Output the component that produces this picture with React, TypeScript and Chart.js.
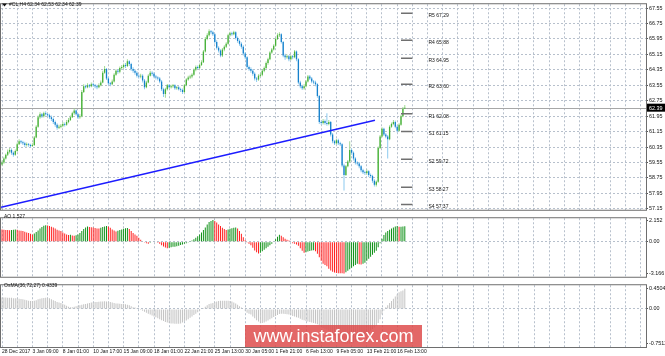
import React, { useEffect, useRef } from 'react';
import { Chart, registerables } from 'chart.js';

Chart.register(...registerables);

// ---------------- data ----------------
const symbolName = '#CL,H4';
const dateLabels = ['28 Dec 2017', '3 Jan 09:00', '8 Jan 01:00', '10 Jan 17:00', '15 Jan 09:00', '18 Jan 01:00', '22 Jan 21:00', '25 Jan 13:00', '30 Jan 05:00', '1 Feb 21:00', '6 Feb 13:00', '9 Feb 05:00', '13 Feb 21:00', '16 Feb 13:00'];
const priceTicks = [57.15, 57.95, 58.75, 59.55, 60.35, 61.15, 61.95, 62.75, 63.55, 64.35, 65.15, 65.95, 66.75, 67.55];
const aoTicks = [-3.166, 0, 2.152];
const osmaTicks = [-0.7512, 0, 0.4504];

const opens = [59.45,59.55,59.75,59.95,60.10,60.20,60.05,59.95,60.15,60.50,
60.65,60.60,60.55,60.45,60.50,60.45,60.40,60.45,60.85,61.40,
61.90,62.05,61.95,62.10,62.05,62.00,61.90,61.80,61.65,61.50,
61.35,61.40,61.45,61.55,61.50,61.65,61.75,61.90,62.10,62.25,
62.05,61.90,61.95,63.20,63.50,63.45,63.55,63.50,63.60,63.55,
63.50,63.45,63.55,63.70,64.20,64.40,63.90,63.65,63.60,63.75,
64.10,64.30,64.25,64.45,64.50,64.60,64.55,64.80,64.65,64.40,
64.30,64.20,64.05,64.00,64.05,63.80,63.45,63.70,64.05,64.20,
64.15,64.00,63.95,63.90,63.75,63.35,63.10,63.35,63.55,63.45,
63.50,63.55,63.40,63.45,63.35,63.30,63.20,63.55,63.85,63.95,
64.00,64.10,64.35,64.50,64.45,64.60,64.75,65.30,65.95,66.15,
66.35,66.30,66.20,65.80,65.50,65.35,65.10,65.40,65.55,65.70,
66.15,66.25,66.20,66.30,66.00,65.85,65.70,65.55,65.20,65.00,
64.50,64.40,64.30,64.15,63.90,63.85,64.05,64.10,64.30,64.45,
64.70,64.90,65.25,65.40,65.60,65.95,66.15,66.20,65.80,65.10,
65.00,65.05,64.90,65.05,65.00,65.30,64.90,63.70,63.50,63.40,
63.50,63.75,64.00,63.90,63.75,63.70,63.60,63.00,61.65,61.60,
61.70,61.60,61.55,61.65,61.00,60.65,60.55,60.70,60.55,60.50,
59.40,58.90,59.35,59.60,60.20,60.05,59.75,59.55,59.50,59.35,
59.15,59.05,59.00,59.10,58.90,58.85,58.60,58.40,58.55,60.30,
60.90,61.30,61.00,60.90,60.75,61.40,61.55,61.65,61.40,61.20,
61.50,61.95,62.34];

const highs = [59.65,59.85,60.02,60.22,60.30,60.28,60.12,60.22,60.58,60.75,
60.72,60.68,60.62,60.58,60.56,60.52,60.55,60.92,61.48,61.98,
62.15,62.12,62.18,62.20,62.12,62.08,61.98,61.88,61.72,61.58,
61.50,61.55,61.65,61.62,61.75,61.85,61.98,62.18,62.35,62.30,
62.12,62.05,63.30,63.60,63.58,63.65,63.62,63.70,63.68,63.62,
63.58,63.65,63.80,64.30,64.55,64.45,63.98,63.72,63.85,64.18,
64.38,64.38,64.52,64.60,64.68,64.70,64.90,64.85,64.72,64.48,
64.38,64.28,64.12,64.15,64.12,63.88,63.78,64.12,64.30,64.28,
64.22,64.08,64.02,63.98,63.82,63.42,63.42,63.62,63.62,63.58,
63.62,63.60,63.52,63.52,63.42,63.38,63.62,63.92,64.05,64.10,
64.18,64.42,64.58,64.58,64.68,64.85,65.38,66.05,66.25,66.45,
66.42,66.38,66.25,65.88,65.58,65.42,65.48,65.62,65.78,66.22,
66.32,66.32,66.38,66.35,66.08,65.92,65.78,65.62,65.28,65.05,
64.58,64.48,64.38,64.22,63.98,64.12,64.20,64.38,64.52,64.78,
64.98,65.32,65.48,65.68,66.02,66.25,66.30,66.25,65.85,65.18,
65.15,65.12,65.12,65.12,65.38,65.35,64.95,63.78,63.58,63.60,
63.82,64.08,64.08,63.98,63.82,63.78,63.65,63.05,61.72,61.80,
61.78,62.10,61.75,61.70,61.08,60.72,60.78,60.78,60.62,60.55,
59.48,59.42,59.68,60.65,60.28,60.12,59.82,59.62,59.58,59.42,
59.22,59.12,59.18,59.15,58.98,58.92,58.68,58.62,60.38,60.98,
61.38,61.35,61.08,60.98,61.48,61.62,61.75,61.72,61.48,61.58,
62.02,62.42,62.53];

const lows = [59.38,59.48,59.70,59.88,60.02,59.95,59.85,59.90,60.10,60.45,
60.52,60.45,60.35,60.38,60.36,60.32,60.35,60.40,60.80,61.35,
61.82,61.85,61.88,61.98,61.92,61.80,61.70,61.55,61.40,61.25,
61.28,61.32,61.38,61.42,61.45,61.58,61.70,61.85,62.02,61.98,
61.80,61.82,61.90,63.15,63.38,63.40,63.42,63.45,63.48,63.40,
63.35,63.40,63.50,63.65,64.15,63.82,63.55,63.50,63.55,63.70,
64.05,64.15,64.18,64.38,64.42,64.45,64.50,64.55,64.30,64.20,
64.10,63.95,63.90,63.92,63.70,63.35,63.40,63.65,64.00,64.05,
63.92,63.85,63.80,63.65,63.25,62.95,62.90,63.28,63.38,63.38,
63.42,63.32,63.32,63.28,63.20,63.10,63.15,63.50,63.78,63.88,
63.92,64.05,64.28,64.38,64.40,64.55,64.70,65.25,65.88,66.08,
66.20,66.10,65.70,65.40,65.25,65.00,65.02,65.32,65.48,65.65,
66.08,66.12,66.15,65.92,65.75,65.60,65.45,65.10,64.90,64.40,
64.30,64.20,64.05,63.80,63.72,63.78,63.98,64.02,64.22,64.40,
64.62,64.85,65.18,65.35,65.55,65.90,66.05,65.72,65.00,64.88,
64.92,64.80,64.85,64.90,64.95,64.80,63.60,63.40,63.30,63.32,
63.45,63.70,63.82,63.65,63.60,63.50,62.90,61.55,61.50,61.52,
61.50,61.45,61.48,60.90,60.55,60.45,60.48,60.45,60.40,59.30,
58.10,58.85,59.30,59.55,59.95,59.65,59.45,59.40,59.25,59.05,
58.95,58.90,58.92,58.80,58.75,58.50,58.30,58.30,58.50,60.25,
60.85,60.92,60.80,59.75,60.70,61.35,61.48,61.32,61.10,61.15,
61.45,61.90,62.34];

const closes = [59.55,59.75,59.95,60.10,60.20,60.05,59.95,60.15,60.50,60.65,
60.60,60.55,60.45,60.50,60.45,60.40,60.45,60.85,61.40,61.90,
62.05,61.95,62.10,62.05,62.00,61.90,61.80,61.65,61.50,61.35,
61.40,61.45,61.55,61.50,61.65,61.75,61.90,62.10,62.25,62.05,
61.90,61.95,63.20,63.50,63.45,63.55,63.50,63.60,63.55,63.50,
63.45,63.55,63.70,64.20,64.40,63.90,63.65,63.60,63.75,64.10,
64.30,64.25,64.45,64.50,64.60,64.55,64.80,64.65,64.40,64.30,
64.20,64.05,64.00,64.05,63.80,63.45,63.70,64.05,64.20,64.15,
64.00,63.95,63.90,63.75,63.35,63.10,63.35,63.55,63.45,63.50,
63.55,63.40,63.45,63.35,63.30,63.20,63.55,63.85,63.95,64.00,
64.10,64.35,64.50,64.45,64.60,64.75,65.30,65.95,66.15,66.35,
66.30,66.20,65.80,65.50,65.35,65.10,65.40,65.55,65.70,66.15,
66.25,66.20,66.30,66.00,65.85,65.70,65.55,65.20,65.00,64.50,
64.40,64.30,64.15,63.90,63.85,64.05,64.10,64.30,64.45,64.70,
64.90,65.25,65.40,65.60,65.95,66.15,66.20,65.80,65.10,65.00,
65.05,64.90,65.05,65.00,65.30,64.90,63.70,63.50,63.40,63.50,
63.75,64.00,63.90,63.75,63.70,63.60,63.00,61.65,61.60,61.70,
61.60,61.55,61.65,61.00,60.65,60.55,60.70,60.55,60.50,59.40,
58.90,59.35,59.60,60.20,60.05,59.75,59.55,59.50,59.35,59.15,
59.05,59.00,59.10,58.90,58.85,58.60,58.40,58.55,60.30,60.90,
61.30,61.00,60.90,60.75,61.40,61.55,61.65,61.40,61.20,61.50,
61.95,62.34,62.39];

const aoValues = [1.20,1.18,1.16,1.15,1.14,1.17,1.19,1.21,1.18,1.12,1.09,
1.05,0.98,0.92,0.85,0.78,0.72,0.80,0.95,1.12,1.30,1.45,1.58,1.64,1.60,1.55,1.48,1.40,1.30,1.18,1.12,
1.05,0.92,0.80,0.72,0.66,0.68,0.62,0.60,0.63,0.72,0.85,1.05,1.25,1.42,1.50,1.47,1.44,1.40,1.35,1.32,
1.30,1.38,1.46,1.52,1.55,1.50,1.38,1.22,1.10,1.02,1.08,1.15,1.22,1.28,1.33,1.35,1.25,1.05,0.85,0.72,
0.60,0.40,0.20,0.05,-0.08,-0.15,-0.20,-0.12,-0.05,0.00,-0.05,-0.10,-0.22,-0.35,-0.48,-0.58,-0.65,-0.60,-0.55,-0.52,
-0.50,-0.45,-0.40,-0.34,-0.28,-0.22,-0.15,-0.08,0.02,0.12,0.25,0.40,0.55,0.72,0.92,1.15,1.42,1.70,1.95,2.06,
2.152,2.05,1.90,1.72,1.55,1.38,1.25,1.17,1.22,1.28,1.34,1.38,1.42,1.30,1.05,0.78,0.45,0.15,-0.08,-0.22,
-0.35,-0.62,-0.88,-1.05,-1.18,-1.10,-0.95,-0.80,-0.65,-0.50,-0.35,-0.20,-0.05,0.25,0.50,0.68,0.60,0.45,0.28,0.20,
0.12,-0.05,-0.15,-0.22,-0.28,-0.40,-0.65,-0.90,-1.10,-1.05,-0.98,-0.92,-0.88,-0.85,-0.95,-1.20,-1.55,-1.90,-2.20,-2.32,
-2.45,-2.70,-2.88,-3.00,-3.08,-3.12,-3.15,-3.155,-3.16,-3.166,-3.05,-2.90,-2.75,-2.60,-2.45,-2.32,-2.20,-2.25,-2.28,-2.20,
-2.10,-1.90,-1.70,-1.50,-1.30,-1.10,-0.90,-0.55,-0.15,0.30,0.65,0.90,1.05,1.18,1.30,1.42,1.50,1.56,1.48,1.49,
1.50,1.527];

const osmaValues = [0.25,0.25,0.25,0.24,0.24,0.24,0.23,0.23,0.23,0.22,0.215,
0.21,0.20,0.19,0.18,0.17,0.17,0.18,0.19,0.21,0.22,0.23,0.235,0.24,0.235,0.23,0.21,0.19,0.17,0.15,0.14,
0.13,0.11,0.09,0.07,0.05,0.04,0.04,0.05,0.06,0.07,0.08,0.09,0.10,0.11,0.12,0.13,0.14,0.145,0.15,0.152,
0.155,0.16,0.16,0.165,0.16,0.155,0.15,0.14,0.13,0.12,0.12,0.115,0.11,0.11,0.10,0.09,0.08,0.06,0.04,0.03,
0.02,0.00,-0.02,-0.04,-0.06,-0.08,-0.10,-0.12,-0.14,-0.16,-0.18,-0.20,-0.22,-0.24,-0.26,-0.28,-0.29,-0.30,-0.31,-0.315,
-0.32,-0.32,-0.32,-0.31,-0.29,-0.27,-0.25,-0.22,-0.19,-0.16,-0.13,-0.10,-0.07,-0.04,-0.01,0.02,0.05,0.08,0.11,0.12,
0.13,0.15,0.16,0.17,0.175,0.18,0.18,0.18,0.175,0.17,0.16,0.14,0.12,0.09,0.06,0.03,0.00,-0.04,-0.08,-0.10,
-0.12,-0.16,-0.20,-0.24,-0.27,-0.30,-0.30,-0.29,-0.27,-0.25,-0.22,-0.20,-0.17,-0.15,-0.13,-0.11,-0.10,-0.10,-0.11,-0.115,
-0.12,-0.13,-0.15,-0.16,-0.18,-0.19,-0.21,-0.23,-0.24,-0.26,-0.27,-0.28,-0.29,-0.30,-0.31,-0.33,-0.35,-0.38,-0.41,-0.425,
-0.44,-0.47,-0.50,-0.54,-0.58,-0.62,-0.66,-0.69,-0.72,-0.74,-0.75,-0.7512,-0.75,-0.74,-0.72,-0.70,-0.67,-0.64,-0.61,-0.60,
-0.58,-0.55,-0.51,-0.47,-0.43,-0.40,-0.36,-0.30,-0.22,-0.12,-0.03,0.04,0.08,0.13,0.17,0.22,0.27,0.32,0.36,0.38,
0.40,0.4339];

const pivotNames = ['R5', 'R4', 'R3', 'R2', 'R1', 'S1', 'S2', 'S3', 'S4'];
const pivotValues = [67.29, 65.88, 64.95, 63.60, 62.08, 61.15, 59.72, 58.27, 57.37];
const pivotFrom = 210;
const pivotTo = 216;

const trendX = [-0.5, 196.3];
const trendY = [57.23, 61.74];

const aoName = 'AO';
const osmaName = 'OsMA(36,72,27)';

// ---------------- styling / layout ----------------
const FONT = '"Liberation Sans", Arial, sans-serif';
const GRID = '#b7c0cc';
const FRAME = '#6e6e6e';
const UP_BODY = '#46b038';
const UP_WICK = '#9fd992';
const DN_BODY = '#1681cc';
const DN_WICK = '#8ccaef';
const AO_UP = '#12921a';
const AO_DN = '#ff2222';
const OSMA_COLOR = '#c4c4c4';
const AXIS_W = 19;
const BAR_PX = 1.9;
const X_MIN = -1 / BAR_PX;
const X_MAX = X_MIN + 645 / BAR_PX;
const LABEL_EVERY = 16;
const GRID_EVERY = 8;

const idx = closes.map((_, i) => i);
const last = closes.length - 1;
const gridValues: number[] = [];
for (let v = 0; v <= X_MAX; v += GRID_EVERY) gridValues.push(v);

Chart.defaults.font.family = FONT;

function makeX(showLabels: boolean): any {
  return {
    type: 'linear',
    min: X_MIN,
    max: X_MAX,
    offset: false,
    afterBuildTicks: (s: any) => {
      s.ticks = gridValues.map((v) => ({ value: v }));
    },
    afterFit: (s: any) => {
      s.height = showLabels ? 9 : 0;
    },
    grid: { color: GRID, lineWidth: 1, drawTicks: false, offset: false },
    border: { display: false, dash: [2, 2] },
    ticks: {
      display: showLabels,
      autoSkip: false,
      maxRotation: 0,
      minRotation: 0,
      align: 'start',
      padding: 2,
      color: '#111',
      font: { size: 5, family: FONT },
      callback: (v: number) => (v % LABEL_EVERY === 0 ? dateLabels[v / LABEL_EVERY] ?? '' : ''),
    },
  };
}

function makeY(min: number, max: number, ticks: number[], fmt: (v: number) => string, zeroOnly: boolean): any {
  return {
    type: 'linear',
    position: 'right',
    min,
    max,
    afterBuildTicks: (s: any) => {
      s.ticks = ticks.map((v) => ({ value: v }));
    },
    afterFit: (s: any) => {
      s.width = AXIS_W;
    },
    grid: {
      color: zeroOnly ? (c: any) => (c.tick && c.tick.value === 0 ? GRID : 'rgba(0,0,0,0)') : GRID,
      lineWidth: 1,
      drawTicks: true,
      tickLength: 2,
      tickColor: '#555',
    },
    border: { display: false, dash: [2, 2] },
    ticks: {
      autoSkip: false,
      padding: 1,
      color: '#111',
      font: { size: 5.4, family: FONT },
      callback: (v: number) => fmt(v),
    },
  };
}

function drawFrame(chart: any) {
  const { ctx, chartArea: a } = chart;
  ctx.save();
  ctx.strokeStyle = FRAME;
  ctx.lineWidth = 1;
  ctx.strokeRect(a.left - 0.5, a.top - 0.5, a.right - a.left + 1, a.bottom - a.top + 1);
  ctx.restore();
}

function panePlugin(title: string, titleY: number): any {
  return {
    id: 'paneOverlay',
    afterDraw(chart: any) {
      drawFrame(chart);
      const { ctx } = chart;
      ctx.save();
      ctx.fillStyle = '#111';
      ctx.font = `5px ${FONT}`;
      ctx.textBaseline = 'middle';
      ctx.textAlign = 'left';
      ctx.fillText(title, 4, titleY);
      ctx.restore();
    },
  };
}

const mainOverlay: any = {
  id: 'mainOverlay',
  beforeDatasetsDraw(chart: any) {
    const { ctx, chartArea: a, scales } = chart;
    const y = Math.round(scales.y.getPixelForValue(closes[last])) + 0.5;
    ctx.save();
    ctx.strokeStyle = '#a7a7a7';
    ctx.lineWidth = 1;
    ctx.beginPath();
    ctx.moveTo(a.left, y);
    ctx.lineTo(a.right, y);
    ctx.stroke();
    ctx.restore();
  },
  afterDraw(chart: any) {
    drawFrame(chart);
    const { ctx, chartArea: a, scales } = chart;
    ctx.save();
    // header
    ctx.fillStyle = '#111';
    ctx.beginPath();
    ctx.moveTo(2, 3.5);
    ctx.lineTo(7, 3.5);
    ctx.lineTo(4.5, 6.5);
    ctx.closePath();
    ctx.fill();
    ctx.font = `5px ${FONT}`;
    ctx.textBaseline = 'middle';
    ctx.textAlign = 'left';
    const header = `${symbolName} ${opens[last].toFixed(2)} ${highs[last].toFixed(2)} ${lows[last].toFixed(2)} ${closes[last].toFixed(2)}`;
    ctx.fillText(header, 9, 5);
    // pivot labels
    const lx = scales.x.getPixelForValue(pivotTo) + 16;
    pivotValues.forEach((v, k) => {
      ctx.fillText(`${pivotNames[k]} ${v.toFixed(2)}`, lx, scales.y.getPixelForValue(v) + 2.5);
    });
    // current price box
    const py = scales.y.getPixelForValue(closes[last]);
    ctx.fillStyle = '#000';
    ctx.fillRect(a.right + 1, py - 4, AXIS_W - 1, 8);
    ctx.fillStyle = '#fff';
    ctx.font = `5.4px ${FONT}`;
    ctx.fillText(closes[last].toFixed(2), a.right + 3, py + 0.5);
    ctx.restore();
  },
};

const baseOptions = (padBottom: number) => ({
  responsive: false,
  animation: false,
  devicePixelRatio: 1,
  events: [],
  layout: { padding: { left: 1, top: 1, right: 0, bottom: padBottom } },
  plugins: { legend: { display: false }, tooltip: { enabled: false } },
});

function mainConfig(): any {
  const isUp = (i: number) => closes[i] >= opens[i];
  const datasets: any[] = [
    {
      type: 'line',
      data: trendX.map((x, k) => ({ x, y: trendY[k] })),
      borderColor: '#1c1cff',
      borderWidth: 1.5,
      pointRadius: 0,
      order: 0,
    },
    ...pivotValues.map((v) => ({
      type: 'line',
      data: [
        { x: pivotFrom, y: v },
        { x: pivotTo, y: v },
      ],
      borderColor: '#707070',
      borderWidth: 1.5,
      pointRadius: 0,
      order: 1,
    })),
    {
      type: 'bar',
      data: idx.map((i) => ({ x: i, y: [opens[i], closes[i]] })),
      backgroundColor: idx.map((i) => (isUp(i) ? UP_BODY : DN_BODY)),
      barThickness: 1.3,
      grouped: false,
      inflateAmount: 0,
      order: 2,
    },
    {
      type: 'bar',
      data: idx.map((i) => ({ x: i, y: [lows[i], highs[i]] })),
      backgroundColor: idx.map((i) => (isUp(i) ? UP_WICK : DN_WICK)),
      barThickness: 1,
      grouped: false,
      inflateAmount: 0,
      order: 3,
    },
  ];
  return {
    type: 'bar',
    data: { datasets },
    options: {
      ...baseOptions(1),
      scales: {
        x: makeX(false),
        y: makeY(57.0998, 67.751, priceTicks, (v) => v.toFixed(2), false),
      },
    },
    plugins: [mainOverlay],
  };
}

function aoConfig(): any {
  return {
    type: 'bar',
    data: {
      datasets: [
        {
          data: idx.map((i) => ({ x: i, y: aoValues[i] })),
          backgroundColor: idx.map((i) => (i > 0 && aoValues[i] > aoValues[i - 1] ? AO_UP : AO_DN)),
          barThickness: 1,
          grouped: false,
          inflateAmount: 0,
        },
      ],
    },
    options: {
      ...baseOptions(1),
      scales: {
        x: makeX(false),
        y: makeY(-3.498, 2.332, aoTicks, (v) => (v === 0 ? '0.00' : v.toFixed(3)), true),
      },
    },
    plugins: [panePlugin(`${aoName} ${aoValues[last]}`, 3)],
  };
}

function osmaConfig(): any {
  return {
    type: 'bar',
    data: {
      datasets: [
        {
          data: idx.map((i) => ({ x: i, y: osmaValues[i] })),
          backgroundColor: OSMA_COLOR,
          barThickness: 1,
          grouped: false,
          inflateAmount: 0,
        },
      ],
    },
    options: {
      ...baseOptions(0),
      scales: {
        x: makeX(true),
        y: makeY(-0.8188, 0.5118, osmaTicks, (v) => (v === 0 ? '0.00' : v.toFixed(4)), true),
      },
    },
    plugins: [panePlugin(`${osmaName} ${osmaValues[last]}`, 5)],
  };
}

export default function App() {
  const mainRef = useRef<HTMLCanvasElement>(null);
  const aoRef = useRef<HTMLCanvasElement>(null);
  const osRef = useRef<HTMLCanvasElement>(null);

  useEffect(() => {
    const charts = [
      new Chart(mainRef.current as HTMLCanvasElement, mainConfig()),
      new Chart(aoRef.current as HTMLCanvasElement, aoConfig()),
      new Chart(osRef.current as HTMLCanvasElement, osmaConfig()),
    ];
    return () => charts.forEach((c) => c.destroy());
  }, []);

  const canvasStyle = (top: number, h: number): any => ({
    position: 'absolute',
    left: 0,
    top,
    width: 665,
    height: h,
    display: 'block',
  });

  return (
    <div style={{ position: 'absolute', left: 0, top: 0, width: 665, height: 356, background: '#fff', overflow: 'hidden' }}>
      <canvas ref={mainRef} width={665} height={214} style={canvasStyle(0, 214)} />
      <canvas ref={aoRef} width={665} height={67} style={canvasStyle(214, 67)} />
      <canvas ref={osRef} width={665} height={75} style={canvasStyle(281, 75)} />
      <div
        style={{
          position: 'absolute',
          left: 245,
          top: 325,
          width: 177,
          height: 22,
          background: 'rgba(221,70,70,0.82)',
          color: '#fff',
          fontFamily: FONT,
          fontSize: 18,
          lineHeight: '22px',
          textAlign: 'center',
          whiteSpace: 'nowrap',
          overflow: 'hidden',
        }}
      >
        www.instaforex.com
      </div>
    </div>
  );
}
